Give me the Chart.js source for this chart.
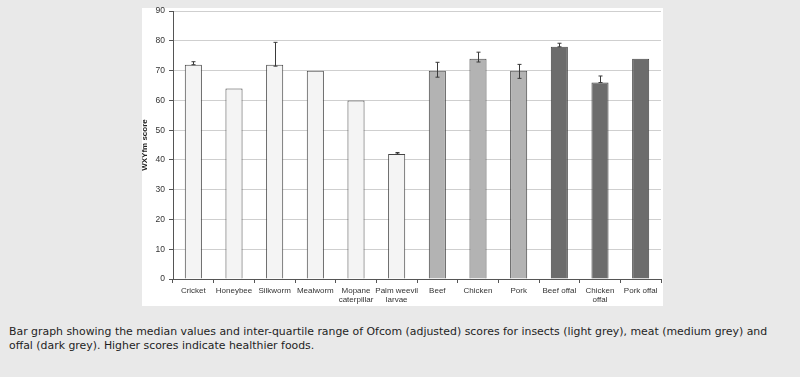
<!DOCTYPE html>
<html>
<head>
<meta charset="utf-8">
<script src="https://cdn.jsdelivr.net/npm/chart.js@4/dist/chart.umd.min.js"></script>
<style>
  html, body { margin: 0; padding: 0; background: #e9e9e9; }
  body { width: 800px; height: 377px; position: relative; overflow: hidden; }
  #box { position: absolute; left: 142px; top: 8px; width: 521px; height: 298px; background: #fff; }
  #wrap { position: absolute; left: 136px; top: 2px; width: 530px; height: 306px; }
  #caption {
    position: absolute; left: 9px; top: 325px; margin: 0;
    font-family: "DejaVu Sans", Verdana, sans-serif; font-size: 10.9px; line-height: 13.5px;
    color: #1e1e1e; white-space: nowrap;
  }
</style>
</head>
<body>
<div id="box"></div>
<div id="wrap"><canvas id="myChart" width="530" height="306"></canvas></div>
<p id="caption">Bar graph showing the median values and inter-quartile range of Ofcom (adjusted) scores for insects (light grey), meat (medium grey) and<br>offal (dark grey). Higher scores indicate healthier foods.</p>
<script>
const categories = ["Cricket", "Honeybee", "Silkworm", "Mealworm", ["Mopane", "caterpillar"], ["Palm weevil", "larvae"],
  "Beef", "Chicken", "Pork", "Beef offal", ["Chicken", "offal"], "Pork offal"];
const groups = ["insect", "insect", "insect", "insect", "insect", "insect",
  "meat", "meat", "meat", "offal", "offal", "offal"];
const medians = [72, 64, 72, 70, 60, 42, 70, 74, 70, 78, 66, 74];
const lowerQ = [72, null, 71.5, null, null, 42, 67.8, 72.9, 67.4, 78, 66, null];
const upperQ = [73, null, 79.5, null, null, 42.5, 72.8, 76.2, 72.1, 79.2, 68.2, null];
const yTicks = [0, 10, 20, 30, 40, 50, 60, 70, 80, 90];

const groupColours = { insect: "#f4f4f4", meat: "#b3b3b3", offal: "#6c6c6c" };

// whiskers for the inter-quartile range, drawn over the bars
const errorBars = {
  id: "errorBars",
  afterDatasetsDraw(chart) {
    const ctx = chart.ctx;
    const meta = chart.getDatasetMeta(0);
    const y = chart.scales.y;
    ctx.save();
    ctx.strokeStyle = "#3a3a3a";
    ctx.lineWidth = 1;
    meta.data.forEach((bar, i) => {
      if (lowerQ[i] == null) return;
      const x = Math.round(bar.x) + 0.5;
      const top = y.getPixelForValue(upperQ[i]);
      const bot = y.getPixelForValue(lowerQ[i]);
      ctx.beginPath();
      ctx.moveTo(x, top); ctx.lineTo(x, bot);
      ctx.moveTo(x - 2, top); ctx.lineTo(x + 2, top);
      ctx.moveTo(x - 2, bot); ctx.lineTo(x + 2, bot);
      ctx.stroke();
    });
    ctx.restore();
  }
};

const ctx = document.getElementById("myChart").getContext("2d");
window.myChartInstance = new Chart(ctx, {
  type: "bar",
  data: {
    labels: categories,
    datasets: [{
      data: medians,
      backgroundColor: groups.map(g => groupColours[g]),
      borderColor: "#454545",
      borderWidth: 1,
      borderSkipped: "bottom",
      barPercentage: 0.42,
      categoryPercentage: 1
    }]
  },
  options: {
    responsive: false,
    animation: false,
    devicePixelRatio: 1,
    layout: { padding: { top: 9, right: 5, left: 0, bottom: 0 } },
    plugins: { legend: { display: false }, tooltip: { enabled: false } },
    scales: {
      x: {
        grid: { offset: true, drawOnChartArea: false, drawTicks: true, tickLength: 4, tickColor: "#555" },
        border: { color: "#555", width: 1 },
        ticks: { color: "#333", font: { family: "Liberation Sans", size: 8, lineHeight: 1.15 }, padding: 3, maxRotation: 0, autoSkip: false },
        afterFit(scale) { scale.height = 29; }
      },
      y: {
        min: 0, max: 90,
        afterBuildTicks(scale) { scale.ticks = yTicks.map(v => ({ value: v })); },
        grid: { color: "#cfcfcf", lineWidth: 1, tickLength: 4, tickColor: "#555" },
        border: { color: "#555", width: 1 },
        ticks: { color: "#333", font: { family: "Liberation Sans", size: 8.5 }, padding: 4 },
        title: { display: true, text: "WXYfm score", color: "#222", font: { family: "Liberation Sans", size: 8, weight: "bold" }, padding: { top: 4, bottom: 0 } },
        afterFit(scale) { scale.width = 37; }
      }
    }
  },
  plugins: [errorBars]
});
</script>
</body>
</html>
